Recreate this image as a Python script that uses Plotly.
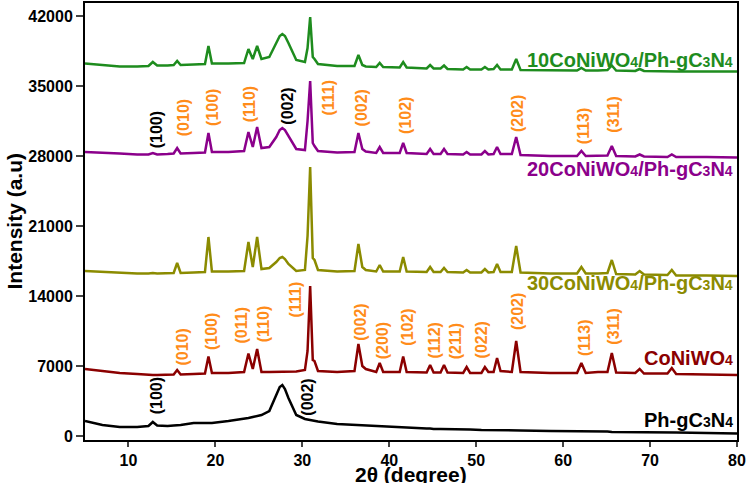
import plotly.graph_objects as go

# ---------------- data ----------------
# shared 2-theta grid (degree), grouped by segments
theta = [
    5, 7, 9, 11, 12.3, 12.8, 13.3, 14.5,            # A
    15.2, 15.6, 16.0,                               # B
    17.5, 18.8, 19.2, 19.6,                         # C
    21.5, 23.3, 23.8, 24.3, 24.8, 25.3,             # D
    26.2, 27.0, 27.4, 27.7, 28.0, 28.4, 29.3,       # E
    30.3, 30.6, 30.9, 31.2, 31.4, 31.8,             # F
    34, 36.0, 36.45, 36.9, 37.3,                    # G
    38.5, 38.9, 39.3,                               # H
    41.2, 41.6, 42.0,                               # I
    44.3, 44.7, 45.1, 45.9, 46.3, 46.7,             # J
    48.5, 48.9, 49.3, 50.6, 51.0, 51.4, 52.0, 52.4, 52.8,  # K
    54.1, 54.6, 55.1,                               # L
    58.5, 61.6, 62.1, 62.6, 64.0, 65.1, 65.6, 66.1, # M
    68.3, 68.8, 69.3, 72.0, 72.5, 73.0, 76.5, 80,   # N
]

ph_gc3n4 = [
    1500, 1100, 900, 900, 1000, 1400, 1050, 1000,
    1050, 1050, 1100,
    1300, 1300, 1300, 1300,
    1500, 1700, 1800, 1900, 2000, 2100,
    2500, 4000, 4900, 5100, 4700, 3800, 2100,
    1700, 1650, 1600, 1550, 1500, 1450,
    1200, 1100, 1100, 1050, 1050,
    1000, 950, 950,
    850, 850, 800,
    750, 750, 700, 700, 700, 700,
    650, 650, 650, 600, 600, 600, 600, 550, 550,
    550, 550, 550,
    500, 500, 450, 450, 450, 450, 400, 400,
    400, 400, 400, 350, 350, 350, 300, 250,
]

coniwo4 = [
    6700, 6500, 6300, 6200, 6100, 6100, 6100, 6100,
    6150, 6600, 6150,
    6200, 6250, 7950, 6300,
    6300, 6400, 8250, 6700, 8700, 6400,
    6400, 6400, 6450, 6450, 6450, 6400, 6450,
    6600, 8500, 15000, 7600, 7500, 6500,
    6400, 6500, 9200, 7000, 6700,
    6400, 7300, 6400,
    6400, 7950, 6400,
    6350, 7100, 6350, 6350, 7100, 6350,
    6300, 6900, 6300, 6300, 6900, 6400, 6400, 7800, 6500,
    6400, 9500, 6400,
    6300, 6300, 7300, 6300, 6400, 6400, 8300, 6350,
    6300, 6700, 6250, 6250, 6800, 6200, 6150, 6100,
]

c30 = [
    16500, 16400, 16300, 16250, 16250, 16300, 16250, 16250,
    16300, 17300, 16300,
    16350, 16400, 19900, 16450,
    16450, 16500, 19400, 16900, 19900, 16700,
    16800, 17400, 17800, 17900, 17700, 17200, 16500,
    16600, 20000, 26900, 17800, 17600, 16600,
    16450, 16500, 19200, 16900, 16600,
    16450, 17100, 16450,
    16450, 17900, 16450,
    16400, 16900, 16400, 16400, 16800, 16400,
    16350, 16600, 16350, 16350, 16700, 16350, 16400, 17200, 16400,
    16400, 19000, 16350,
    16250, 16250, 16900, 16250, 16250, 16300, 17600, 16200,
    16150, 16500, 16150, 16100, 16600, 16050, 16050, 16000,
]

c20 = [
    28400, 28350, 28250, 28150, 28150, 28300, 28150, 28200,
    28250, 28800, 28250,
    28300, 28350, 30300, 28400,
    28400, 28500, 30400, 28900, 30900, 28800,
    28900, 29900, 30600, 30800, 30600, 30000, 28700,
    28600, 31500, 35500, 29300, 29000, 28500,
    28350, 28400, 30300, 28700, 28450,
    28300, 28900, 28300,
    28300, 29300, 28300,
    28200, 28700, 28200, 28200, 28700, 28200,
    28150, 28400, 28150, 28150, 28500, 28150, 28200, 28900, 28200,
    28200, 29900, 28100,
    28000, 28000, 28500, 28000, 28000, 28050, 29000, 28000,
    27950, 28150, 27950, 27900, 28150, 27900, 27900, 27850,
]

c10 = [
    37250, 37100, 36950, 36950, 37000, 37400, 37050, 37050,
    37100, 37500, 37100,
    37150, 37200, 39000, 37250,
    37250, 37300, 38700, 37700, 39000, 37700,
    37900, 39200, 40000, 40200, 40000, 39300, 37600,
    37400, 38800, 41900, 37900, 37700, 37200,
    37000, 37000, 38100, 37100, 36950,
    36900, 37300, 36900,
    36850, 37400, 36850,
    36750, 37100, 36750, 36750, 37050, 36700,
    36650, 36900, 36650, 36650, 36900, 36650, 36700, 37100, 36650,
    36650, 37700, 36600,
    36550, 36550, 36800, 36550, 36550, 36600, 37050, 36550,
    36500, 36700, 36500, 36450, 36500, 36450, 36450, 36450,
]

series_names = ["Ph-gC3N4", "CoNiWO4", "30CoNiWO4/Ph-gC3N4",
                "20CoNiWO4/Ph-gC3N4", "10CoNiWO4/Ph-gC3N4"]
series_values = [ph_gc3n4, coniwo4, c30, c20, c10]
series_colors = ["#000000", "#8B0000", "#8B8B00", "#8B008B", "#1E8C1E"]

# series name labels (small digits kept on the baseline)
SUB = '<span style="font-size:14px">%s</span>'
name_texts = ["Ph-gC" + SUB % "3" + "N" + SUB % "4",
              "CoNiWO" + SUB % "4",
              "30CoNiWO" + SUB % "4" + "/Ph-gC" + SUB % "3" + "N" + SUB % "4",
              "20CoNiWO" + SUB % "4" + "/Ph-gC" + SUB % "3" + "N" + SUB % "4",
              "10CoNiWO" + SUB % "4" + "/Ph-gC" + SUB % "3" + "N" + SUB % "4"]
name_y = [1600, 7800, 15300, 26700, 37600]
name_x = 79.8

# Miller index labels
top_orange_text = ["(010)", "(100)", "(110)", "(111)", "(002)", "(102)",
                   "(202)", "(113)", "(311)"]
top_orange_x = [16.3, 19.6, 23.9, 32.9, 36.8, 41.8, 54.7, 62.3, 65.7]
top_orange_y = [31800, 32900, 33200, 33800, 32800, 32100, 32200, 31000, 32100]

top_black_text = ["(100)", "(002)"]
top_black_x = [13.2, 28.2]
top_black_y = [30600, 33000]

red_orange_text = ["(010)", "(100)", "(011)", "(110)", "(111)", "(002)", "(200)",
                   "(102)", "(112)", "(211)", "(022)", "(202)", "(113)", "(311)"]
red_orange_x = [16.1, 19.5, 23.0, 25.5, 29.2, 36.6, 39.2, 42.0, 45.1, 47.6,
                50.6, 54.7, 62.4, 65.7]
red_orange_y = [8900, 10400, 11100, 11200, 13700, 11400, 9500, 10900, 9500,
                9500, 9600, 12400, 9800, 10900]

bot_black_text = ["(100)", "(002)"]
bot_black_x = [13.2, 30.5]
bot_black_y = [4000, 3900]

x_ticks = [10, 20, 30, 40, 50, 60, 70, 80]
x_ticklabels = ["10", "20", "30", "40", "50", "60", "70", "80"]
y_ticks = [0, 7000, 14000, 21000, 28000, 35000, 42000]
y_ticklabels = ["0", "7000", "14000", "21000", "28000", "35000", "42000"]

x_title = "2θ (degree)"
y_title = "Intensity (a.u)"

# ---------------- figure ----------------
FONT = "Liberation Sans, Arial, sans-serif"
ORANGE = "#FF8C1A"

fig = go.Figure()
for name, vals, col in zip(series_names, series_values, series_colors):
    fig.add_trace(go.Scatter(x=theta, y=vals, mode="lines", name=name,
                             line=dict(color=col, width=2.5),
                             showlegend=False))

annotations = []
for t, y, col in zip(name_texts, name_y, series_colors):
    annotations.append(dict(x=name_x, y=y, text="<b>%s</b>" % t, showarrow=False,
                            xanchor="right", yanchor="middle",
                            font=dict(family=FONT, size=20, color=col)))


def add_labels(texts, xs, ys, color):
    for t, x, y in zip(texts, xs, ys):
        annotations.append(dict(x=x, y=y, text="<b>%s</b>" % t, showarrow=False,
                                textangle=-90, xanchor="center", yanchor="middle",
                                font=dict(family=FONT, size=16, color=color)))


add_labels(top_orange_text, top_orange_x, top_orange_y, ORANGE)
add_labels(top_black_text, top_black_x, top_black_y, "#000000")
add_labels(red_orange_text, red_orange_x, red_orange_y, ORANGE)
add_labels(bot_black_text, bot_black_x, bot_black_y, "#000000")

# axis titles as annotations placed in the margins
annotations.append(dict(xref="paper", yref="paper", x=0.5, y=0, yanchor="top",
                        yshift=-21, text="<b>%s</b>" % x_title, showarrow=False,
                        font=dict(family=FONT, size=21, color="black")))
annotations.append(dict(xref="paper", yref="paper", x=0, y=0.5, xanchor="center",
                        xshift=-71, textangle=-90, text="<b>%s</b>" % y_title,
                        showarrow=False,
                        font=dict(family=FONT, size=21, color="black")))

fig.update_layout(
    width=750, height=483,
    margin=dict(l=85, r=13, t=3, b=43, autoexpand=False),
    paper_bgcolor="white", plot_bgcolor="white",
    annotations=annotations,
    font=dict(family=FONT, color="black"),
)
fig.update_xaxes(
    range=[5, 80], tickvals=x_ticks,
    ticktext=["<b>%s</b>" % t for t in x_ticklabels],
    ticks="outside", ticklen=5, tickwidth=2,
    showline=True, linewidth=2, linecolor="black", mirror=True,
    showgrid=False, zeroline=False, automargin=False,
    tickfont=dict(family=FONT, size=16, color="black", weight="bold"),
)
fig.update_yaxes(
    range=[-400, 43300], tickvals=y_ticks,
    ticktext=["<b>%s</b>" % t for t in y_ticklabels],
    ticks="outside", ticklen=7, tickwidth=2,
    showline=True, linewidth=2, linecolor="black", mirror=True,
    showgrid=False, zeroline=False, automargin=False,
    tickfont=dict(family=FONT, size=16, color="black", weight="bold"),
)

# page body without default margin so the figure sits at the window origin
fig.write_html("out.html",
               config={"displayModeBar": False},
               post_script="document.body.style.margin='0';"
                           "document.body.style.overflow='hidden';")
